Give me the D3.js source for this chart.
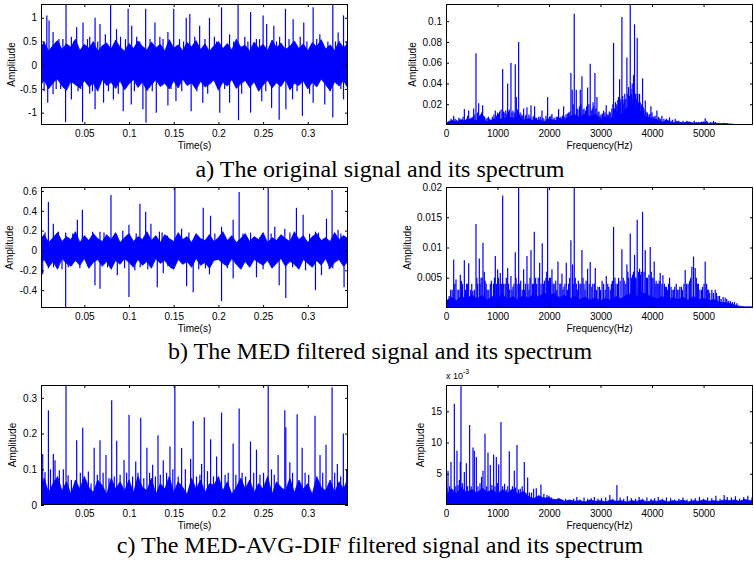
<!DOCTYPE html>
<html>
<head>
<meta charset="utf-8">
<script src="https://cdn.jsdelivr.net/npm/d3@7"></script>
<style>
  body { margin: 0; background: #fff; }
  svg { display: block; }
  .tick text { font-family: "Liberation Sans", Arial, sans-serif; font-size: 10px; fill: #000; }
  .tick line { stroke: #000; }
</style>
</head>
<body>
<svg id="chart" width="754" height="563"></svg>
<script>
// ---------- data ----------

// sample grid of the noise envelopes (time in s, frequency in Hz)
const timeGrid = [0,0.005,0.01,0.015,0.02,0.025,0.03,0.035,0.04,0.045,
  0.05,0.055,0.06,0.065,0.07,0.075,0.08,0.085,0.09,0.095,
  0.1,0.105,0.11,0.115,0.12,0.125,0.13,0.135,0.14,0.145,
  0.15,0.155,0.16,0.165,0.17,0.175,0.18,0.185,0.19,0.195,
  0.2,0.205,0.21,0.215,0.22,0.225,0.23,0.235,0.24,0.245,
  0.25,0.255,0.26,0.265,0.27,0.275,0.28,0.285,0.29,0.295,
  0.3,0.305,0.31,0.315,0.32,0.325,0.33,0.335,0.34,0.345];
const freqGrid = [0,100,200,300,400,500,600,700,800,900,1000,
  1100,1200,1300,1400,1500,1600,1700,1800,1900,2000,
  2100,2200,2300,2400,2500,2600,2700,2800,2900,3000,
  3100,3200,3300,3400,3500,3600,3700,3800,3900,4000,
  4100,4200,4300,4400,4500,4600,4700,4800,4900,5000,
  5100,5200,5300,5400,5500,5600,5700,5800,5900,6000];

// a) original signal: dense band + impulses
const aBandHi = [0.34,0.48,0.30,0.42,0.52,0.33,0.45,0.38,0.55,0.31,
  0.44,0.36,0.50,0.29,0.41,0.47,0.34,0.53,0.38,0.30,
  0.46,0.35,0.51,0.40,0.32,0.49,0.37,0.44,0.30,0.54,
  0.36,0.43,0.31,0.48,0.39,0.52,0.33,0.45,0.29,0.41,
  0.50,0.35,0.46,0.32,0.55,0.38,0.42,0.30,0.49,0.36,
  0.44,0.31,0.53,0.37,0.47,0.33,0.40,0.51,0.35,0.45,
  0.30,0.48,0.39,0.54,0.34,0.43,0.31,0.50,0.37,0.46];
const aBandLo = [-0.46,-0.31,-0.50,-0.37,-0.29,-0.44,-0.53,-0.34,-0.41,-0.48,
  -0.32,-0.45,-0.38,-0.55,-0.30,-0.43,-0.36,-0.49,-0.33,-0.52,
  -0.39,-0.30,-0.47,-0.35,-0.54,-0.41,-0.31,-0.45,-0.38,-0.50,
  -0.33,-0.48,-0.29,-0.43,-0.37,-0.51,-0.34,-0.46,-0.40,-0.31,
  -0.53,-0.36,-0.44,-0.30,-0.49,-0.39,-0.32,-0.47,-0.35,-0.55,
  -0.42,-0.31,-0.48,-0.37,-0.45,-0.30,-0.52,-0.38,-0.43,-0.33,
  -0.50,-0.36,-0.46,-0.29,-0.41,-0.54,-0.35,-0.44,-0.32,-0.49];
const aSpikes = [[0.008,1.05],[0.0105,0.94],[0.009,-0.79],[0.015,0.7],[0.015,-0.61],[0.0215,0.55],[0.0235,-0.5],
  [0.0295,1.27],[0.029,-1.2],[0.0355,0.6],[0.0355,-0.72],[0.0414,0.8],[0.043,-0.55],[0.0485,0.9],[0.048,-1.2],
  [0.0535,0.55],[0.056,0.6],[0.056,-0.6],[0.062,1.0],[0.062,-0.93],[0.0675,0.87],[0.0715,-0.79],[0.0735,0.65],
  [0.0794,1.29],[0.0825,-0.72],[0.086,0.76],[0.0905,0.6],[0.0935,-0.97],[0.099,1.19],[0.103,0.83],[0.1025,-0.83],
  [0.1085,0.6],[0.1155,-0.93],[0.1186,1.19],[0.119,-1.21],[0.1235,0.55],[0.129,0.9],[0.1305,-1.0],[0.1345,0.6],
  [0.1435,0.7],[0.1435,-0.85],[0.150,1.19],[0.1525,-0.76],[0.1565,0.55],[0.164,1.0],[0.168,1.08],[0.1695,-0.97],
  [0.1735,0.6],[0.179,0.83],[0.1825,-0.79],[0.19,1.0],[0.1955,0.6],[0.2015,-1.0],[0.2035,1.22],[0.2125,0.65],
  [0.2125,-0.79],[0.222,1.29],[0.2225,-1.16],[0.2295,0.6],[0.236,1.12],[0.236,-1.0],[0.2425,0.55],[0.2485,-0.76],
  [0.25,1.05],[0.254,0.87],[0.2595,-0.9],[0.262,0.83],[0.2685,0.6],[0.268,-1.15],[0.275,1.19],[0.2755,-0.93],
  [0.2836,0.97],[0.283,-0.72],[0.2915,0.6],[0.2955,0.9],[0.294,-1.07],[0.306,1.22],[0.306,-0.79],[0.3135,0.65],
  [0.319,-0.83],[0.3225,0.5],[0.328,1.29],[0.328,-1.1],[0.334,0.69],[0.34,1.05],[0.34,-0.72],[0.3435,0.5],
  [0.005,0.5],[0.005,-0.55],[0.0185,-0.5],[0.026,0.55],[0.038,0.5],[0.046,-0.5],[0.059,-0.55],[0.065,0.5],
  [0.077,-0.55],[0.088,-0.6],[0.096,0.55],[0.106,-0.55],[0.112,0.5],[0.126,-0.55],[0.138,0.55],[0.147,-0.5],
  [0.159,-0.55],[0.161,0.5],[0.176,-0.55],[0.185,0.55],[0.188,-0.6],[0.198,0.5],[0.207,-0.5],[0.217,0.5],
  [0.226,-0.6],[0.233,0.5],[0.246,0.55],[0.253,-0.55],[0.265,0.5],[0.279,0.55],[0.288,-0.55],[0.299,0.5],
  [0.302,-0.6],[0.31,0.55],[0.325,-0.55],[0.331,0.5],[0.337,-0.5]];
const aFloor = [0.002,0.004,0.003,0.005,0.003,0.006,
  0.004,0.006,0.003,0.005,0.007, 0.005,0.008,0.006,0.009,0.005,
  0.006,0.004,0.005,0.003,0.006, 0.004,0.006,0.005,0.008,0.010,
  0.007,0.011,0.008,0.010,0.006, 0.008,0.006,0.012,0.010,0.016,
  0.020,0.015,0.012,0.008,0.006, 0.005,0.003,0.004,0.002,0.003,
  0.002,0.003,0.002,0.002,0.003, 0.0015,0.002,0.001,0.0015,0.001,
  0.0006,0.0005,0.0005,0.0005,0.0005];
const aPeaks = [[60,0.004],[100,0.006],[149,0.009],[200,0.005],[250,0.007],[300,0.005],[356,0.0155],[400,0.006],[440,0.014],[480,0.007],
  [537,0.016],[582,0.069],[610,0.012],[634,0.021],[670,0.01],[711,0.019],[750,0.008],[800,0.007],[850,0.006],[900,0.008],
  [957,0.014],[1000,0.012],[1040,0.013],[1070,0.015],[1100,0.054],[1130,0.012],[1160,0.014],[1197,0.040],[1230,0.015],[1261,0.060],
  [1300,0.014],[1345,0.0585],[1365,0.027],[1390,0.015],[1410,0.080],[1440,0.012],[1470,0.01],[1507,0.016],[1540,0.009],[1572,0.017],
  [1610,0.01],[1650,0.019],[1690,0.008],[1720,0.018],[1760,0.007],[1800,0.008],[1863,0.014],[1900,0.006],[1940,0.009],[1973,0.027],
  [2010,0.008],[2057,0.0105],[2100,0.007],[2140,0.008],[2186,0.0155],[2230,0.008],[2283,0.018],[2330,0.01],[2380,0.012],[2425,0.050],
  [2451,0.034],[2490,0.107],[2529,0.034],[2560,0.015],[2607,0.034],[2639,0.047],[2680,0.016],[2710,0.014],[2749,0.036],[2800,0.059],
  [2840,0.016],[2870,0.018],[2891,0.050],[2930,0.027],[2970,0.013],[3010,0.01],[3059,0.014],[3111,0.019],[3150,0.01],[3190,0.012],
  [3220,0.016],[3253,0.079],[3290,0.022],[3320,0.018],[3350,0.027],[3370,0.044],[3395,0.025],[3415,0.104],[3440,0.02],[3470,0.03],
  [3490,0.025],[3512,0.065],[3544,0.0365],[3560,0.028],[3577,0.1165],[3600,0.03],[3615,0.040],[3641,0.048],[3660,0.097],[3685,0.03],
  [3712,0.084],[3735,0.022],[3758,0.030],[3790,0.018],[3816,0.045],[3845,0.015],[3868,0.0235],[3910,0.012],[3940,0.01],[3978,0.018],
  [4020,0.008],[4060,0.009],[4094,0.014],[4140,0.007],[4191,0.009],[4230,0.006],[4280,0.006],[4340,0.0073],[4400,0.005],[4450,0.006],
  [4520,0.004],[4600,0.004],[4676,0.004],[4750,0.003],[4820,0.004],[4900,0.003],[4960,0.003],[5032,0.0066],[5080,0.003],[5140,0.003],
  [5194,0.004],[5260,0.002],[5320,0.002],[5388,0.002],[5460,0.0015],[5520,0.001],
  [20,0.003],[120,0.005],[175,0.006],[225,0.004],[275,0.006],[330,0.008],[380,0.005],[420,0.009],[460,0.006],[510,0.008],
  [560,0.01],[650,0.009],[690,0.012],[730,0.009],[775,0.006],[825,0.008],[875,0.005],[930,0.01],[980,0.009],[1020,0.011],
  [1115,0.013],[1180,0.011],[1215,0.013],[1280,0.012],[1325,0.012],[1425,0.01],[1490,0.009],[1555,0.01],[1630,0.008],[1705,0.009],
  [1740,0.007],[1830,0.008],[1880,0.007],[1960,0.006],[2035,0.009],[2080,0.006],[2165,0.008],[2205,0.007],[2260,0.009],[2305,0.008],
  [2355,0.011],[2405,0.013],[2470,0.02],[2545,0.016],[2590,0.018],[2620,0.02],[2660,0.015],[2730,0.018],[2775,0.02],[2820,0.014],
  [2855,0.022],[2910,0.016],[2950,0.012],[2990,0.009],[3035,0.011],[3085,0.012],[3130,0.01],[3170,0.013],[3240,0.02],[3270,0.016],
  [3305,0.02],[3335,0.024],[3380,0.022],[3430,0.028],[3455,0.024],[3530,0.03],[3590,0.035],[3630,0.026],[3670,0.03],[3700,0.025],
  [3725,0.03],[3770,0.022],[3800,0.02],[3830,0.017],[3885,0.013],[3960,0.011],[4000,0.012],[4040,0.008],[4120,0.008],[4170,0.006],
  [4260,0.005],[4310,0.005],[4370,0.004],[4480,0.004],[4560,0.003],[4640,0.003],[4720,0.003],[4860,0.003],[5000,0.003],[5060,0.004],
  [5110,0.002],[5230,0.003],[5290,0.002],[5420,0.0015]];

// b) MED filtered
const bBandHi = [0.10,0.16,0.08,0.13,0.18,0.09,0.14,0.11,0.19,0.08,
  0.15,0.10,0.17,0.12,0.09,0.16,0.11,0.18,0.08,0.13,
  0.17,0.09,0.14,0.11,0.19,0.10,0.15,0.08,0.16,0.12,
  0.09,0.18,0.11,0.14,0.08,0.17,0.12,0.10,0.16,0.09,
  0.13,0.19,0.10,0.15,0.08,0.12,0.17,0.09,0.14,0.11,
  0.18,0.08,0.13,0.10,0.16,0.12,0.09,0.19,0.11,0.15,
  0.08,0.14,0.17,0.10,0.13,0.09,0.18,0.11,0.15,0.12];
const bBandLo = [-0.14,-0.09,-0.17,-0.11,-0.19,-0.08,-0.13,-0.16,-0.10,-0.15,
  -0.08,-0.18,-0.12,-0.09,-0.16,-0.11,-0.19,-0.10,-0.14,-0.08,
  -0.12,-0.17,-0.09,-0.15,-0.11,-0.18,-0.08,-0.13,-0.10,-0.16,
  -0.19,-0.09,-0.14,-0.11,-0.17,-0.08,-0.15,-0.12,-0.18,-0.10,
  -0.09,-0.13,-0.16,-0.08,-0.14,-0.19,-0.11,-0.17,-0.09,-0.12,
  -0.15,-0.10,-0.18,-0.13,-0.08,-0.16,-0.11,-0.14,-0.19,-0.09,
  -0.13,-0.17,-0.10,-0.15,-0.08,-0.18,-0.12,-0.09,-0.16,-0.11];
const bSpikes = [[0.0034,-0.24],[0.0098,0.49],[0.0098,-0.18],[0.0153,0.27],[0.0155,-0.17],[0.0291,0.18],[0.0291,-0.58],[0.032,-0.17],
  [0.0422,0.31],[0.0478,0.41],[0.054,-0.16],[0.0593,0.19],[0.0619,-0.35],[0.0675,0.19],[0.0675,-0.385],[0.0798,0.56],
  [0.086,0.16],[0.0869,-0.25],[0.0999,0.26],[0.0999,-0.47],[0.1065,-0.2],[0.1122,0.47],[0.1125,-0.17],[0.1186,0.39],
  [0.1245,0.27],[0.1316,-0.37],[0.134,0.19],[0.1383,-0.23],[0.143,0.15],[0.1435,-0.16],[0.1513,0.64],[0.1588,0.22],
  [0.1644,-0.36],[0.1718,-0.42],[0.183,0.43],[0.1855,-0.18],[0.1912,0.35],[0.19,-0.24],[0.2035,0.24],[0.2035,-0.51],
  [0.2165,0.31],[0.2165,-0.28],[0.2232,0.59],[0.2275,0.17],[0.2426,-0.27],[0.2557,0.64],[0.2631,0.24],[0.268,-0.35],
  [0.2743,0.22],[0.2754,-0.48],[0.283,-0.17],[0.2873,0.43],[0.2948,0.36],[0.2975,-0.2],[0.3086,0.19],[0.3086,-0.4],
  [0.3153,-0.25],[0.3209,0.32],[0.3272,0.61],[0.328,-0.18],[0.3339,0.21],[0.3406,-0.37],
  [0.006,0.18],[0.021,0.19],[0.025,-0.19],[0.037,0.17],[0.045,-0.18],[0.072,0.18],[0.076,-0.17],[0.093,0.2],
  [0.095,-0.18],[0.108,0.17],[0.121,-0.19],[0.137,0.18],[0.147,-0.18],[0.167,0.18],[0.178,-0.19],[0.196,0.17],
  [0.21,-0.18],[0.236,0.18],[0.25,-0.19],[0.259,0.17],[0.28,0.18],[0.302,0.17],[0.312,0.18],[0.324,-0.19],[0.337,0.17]];
const bFloor = [0.001,0.0018,0.0012,0.002,0.0014,0.0022,
  0.0015,0.0021,0.0013,0.0019,0.0016, 0.0022,0.0014,0.0019,0.0013,0.0021,
  0.0016,0.0023,0.0018,0.0025,0.0021, 0.0024,0.0017,0.0021,0.0015,0.0019,
  0.0014,0.0018,0.0013,0.0017,0.0012, 0.0016,0.0013,0.0019,0.0015,0.0021,
  0.0024,0.0019,0.0026,0.0022,0.0018, 0.0015,0.0019,0.0013,0.0017,0.0014,
  0.0018,0.0013,0.0019,0.0014,0.0016, 0.0012,0.0014,0.001,0.0009,0.0008,
  0.0005,0.0003,0.0002,0.0002,0.0002];
const bPeaks = [[40,0.0015],[90,0.003],[149,0.008],[194,0.0047],[230,0.003],[278,0.0055],[320,0.004],[356,0.0079],[400,0.004],[440,0.0074],
  [480,0.003],[520,0.0028],[582,0.0139],[615,0.004],[647,0.0082],[680,0.005],[718,0.0108],[744,0.006],[780,0.004],[830,0.003],
  [880,0.0045],[920,0.004],[957,0.0086],[1003,0.0064],[1030,0.004],[1054,0.0058],[1080,0.004],[1100,0.0186],[1150,0.004],[1197,0.0066],
  [1230,0.003],[1261,0.0053],[1300,0.0035],[1345,0.0092],[1380,0.004],[1410,0.020],[1450,0.0045],[1480,0.003],[1507,0.0064],[1540,0.004],
  [1572,0.0086],[1610,0.003],[1650,0.0096],[1680,0.004],[1714,0.0126],[1760,0.004],[1790,0.005],[1818,0.0075],[1845,0.004],[1869,0.0107],
  [1910,0.0045],[1940,0.005],[1973,0.020],[2010,0.005],[2057,0.0064],[2100,0.004],[2130,0.0045],[2173,0.0077],[2210,0.004],[2251,0.0057],
  [2290,0.0035],[2335,0.0075],[2380,0.004],[2425,0.0112],[2458,0.0072],[2490,0.020],[2530,0.004],[2570,0.0045],[2600,0.004],[2639,0.0096],
  [2680,0.004],[2720,0.0045],[2749,0.0065],[2800,0.0076],[2850,0.004],[2898,0.0066],[2950,0.0035],[3000,0.003],[3060,0.004],[3111,0.0053],
  [3160,0.0035],[3210,0.004],[3253,0.0134],[3300,0.004],[3350,0.005],[3415,0.0097],[3460,0.0045],[3512,0.0072],[3545,0.005],[3577,0.0123],
  [3620,0.0055],[3660,0.0088],[3690,0.005],[3712,0.0146],[3758,0.0065],[3790,0.006],[3816,0.0159],[3845,0.006],[3868,0.0096],[3910,0.005],
  [3940,0.0055],[3965,0.0101],[4000,0.005],[4042,0.0077],[4080,0.0045],[4120,0.004],[4159,0.0058],[4211,0.0054],[4260,0.0035],[4300,0.003],
  [4340,0.005],[4390,0.003],[4440,0.0035],[4490,0.003],[4540,0.0035],[4590,0.003],[4644,0.0063],[4700,0.004],[4773,0.0068],[4806,0.0085],
  [4838,0.0066],[4880,0.004],[4930,0.003],[4980,0.0035],[5032,0.0077],[5080,0.003],[5120,0.0025],[5161,0.003],[5226,0.003],[5280,0.002],
  [5340,0.0015],[5420,0.0017],[5480,0.0012],[5560,0.001],[5646,0.0008],
  [60,0.002],[120,0.003],[170,0.004],[250,0.003],[300,0.0045],[380,0.003],[420,0.004],[500,0.004],[550,0.003],[600,0.005],
  [660,0.004],[700,0.005],[760,0.0045],[800,0.003],[860,0.004],[940,0.005],[980,0.004],[1020,0.005],[1120,0.004],[1170,0.005],
  [1215,0.004],[1280,0.003],[1320,0.004],[1360,0.005],[1430,0.004],[1525,0.003],[1590,0.004],[1630,0.005],[1700,0.004],[1740,0.005],
  [1890,0.004],[1955,0.006],[1990,0.0045],[2030,0.005],[2080,0.004],[2150,0.003],[2230,0.004],[2270,0.003],[2310,0.004],[2360,0.003],
  [2400,0.005],[2470,0.004],[2510,0.005],[2550,0.003],[2620,0.004],[2660,0.005],[2700,0.003],[2780,0.004],[2830,0.0035],[2880,0.004],
  [2920,0.003],[2980,0.0035],[3030,0.0045],[3090,0.003],[3140,0.004],[3190,0.003],[3230,0.0045],[3280,0.005],[3330,0.004],[3380,0.0045],
  [3440,0.005],[3490,0.004],[3530,0.006],[3600,0.005],[3640,0.006],[3680,0.005],[3735,0.006],[3775,0.0055],[3890,0.005],[3985,0.006],
  [4020,0.005],[4060,0.004],[4100,0.004],[4140,0.0045],[4190,0.004],[4240,0.004],[4280,0.0035],[4320,0.004],[4370,0.0035],[4420,0.003],
  [4470,0.004],[4520,0.003],[4570,0.0035],[4620,0.004],[4670,0.004],[4730,0.0045],[4750,0.005],[4860,0.005],[4900,0.004],[4960,0.003],
  [5010,0.004],[5060,0.004],[5100,0.003],[5190,0.0025],[5250,0.0025],[5310,0.002],[5380,0.0018],[5450,0.0015],[5520,0.0012],[5600,0.001]];

// c) MED-AVG-DIF filtered (spectrum in units of 1e-3)
const cBandHi = [0.05,0.075,0.035,0.06,0.08,0.04,0.065,0.03,0.07,0.045,
  0.08,0.05,0.035,0.07,0.055,0.03,0.075,0.045,0.065,0.04,
  0.07,0.035,0.08,0.05,0.04,0.075,0.03,0.06,0.045,0.08,
  0.035,0.065,0.05,0.03,0.075,0.045,0.07,0.035,0.06,0.055,
  0.08,0.04,0.065,0.03,0.05,0.075,0.045,0.07,0.035,0.06,
  0.045,0.08,0.03,0.065,0.05,0.04,0.075,0.035,0.07,0.045,
  0.06,0.03,0.08,0.05,0.04,0.07,0.035,0.065,0.045,0.075];
const cSpikes = [[0.0034,0.143],[0.006,0.092],[0.0098,0.265],[0.0121,0.1],[0.0153,0.143],[0.0172,0.125],[0.022,0.097],[0.0265,0.1],
  [0.0295,0.334],[0.0318,0.083],[0.0355,0.07],[0.0414,0.181],[0.0455,0.09],[0.0482,0.216],[0.0545,0.094],[0.0575,0.06],
  [0.061,0.16],[0.0645,0.085],[0.0675,0.181],[0.071,0.09],[0.0742,0.14],[0.0775,0.075],[0.0806,0.293],[0.0835,0.08],
  [0.0862,0.18],[0.09,0.085],[0.0944,0.126],[0.0973,0.09],[0.1,0.253],[0.104,0.08],[0.1075,0.122],[0.11,0.09],
  [0.1131,0.244],[0.1165,0.075],[0.12,0.16],[0.123,0.09],[0.1264,0.113],[0.1295,0.08],[0.1324,0.195],[0.135,0.085],
  [0.1383,0.125],[0.142,0.09],[0.1458,0.164],[0.149,0.1],[0.1513,0.334],[0.155,0.08],[0.1588,0.16],[0.163,0.1],
  [0.1689,0.129],[0.1718,0.235],[0.1755,0.08],[0.1793,0.085],[0.1812,0.115],[0.1842,0.246],[0.1878,0.095],[0.1913,0.184],
  [0.1945,0.08],[0.198,0.136],[0.2035,0.259],[0.2075,0.085],[0.211,0.09],[0.2165,0.172],[0.2195,0.085],[0.2232,0.27],
  [0.2265,0.09],[0.2305,0.08],[0.2359,0.178],[0.2395,0.09],[0.2426,0.155],[0.2465,0.085],[0.2505,0.09],[0.2557,0.334],
  [0.2594,0.1],[0.2625,0.085],[0.2668,0.14],[0.2743,0.265],[0.2754,0.218],[0.2799,0.12],[0.283,0.09],[0.2881,0.254],
  [0.2937,0.16],[0.297,0.09],[0.301,0.085],[0.3081,0.25],[0.3137,0.14],[0.3167,0.09],[0.3204,0.169],[0.3272,0.33],
  [0.3301,0.09],[0.3331,0.115],[0.3368,0.08],[0.3398,0.2],[0.3435,0.1]];
const cFloor = [1.5,2.6,1.8,2.8,2.0,2.5, 1.9,2.7,2.1,2.4,1.8, 2.5,1.9,2.6,1.7,2.2,
  1.4,1.0,1.5,1.1,1.2, 0.8,1.0,0.6,0.8,0.6, 0.7,0.5,0.8,0.6,0.7, 0.5,0.8,0.6,0.7,0.5,
  0.7,0.6,0.8,0.5,0.7, 0.6,0.8,0.5,0.7,0.6, 0.8,0.5,0.7,0.6,0.8, 0.6,0.7,0.6,0.8,0.7,
  0.8,0.6,0.9,0.7,0.8];
const cPeaks = [[20,2.8],[39,5.5],[70,3],[97,6.9],[130,2.5],[162,16.2],[190,3],[213,8.7],[233,3.2],[260,4],
  [278,6.9],[291,19.2],[320,3.5],[356,5.3],[395,6.7],[420,3],[459,12.8],[490,3],[524,9.2],[550,8.7],
  [589,7.7],[620,3],[660,3.5],[690,4.5],[718,5.5],[757,11.4],[790,3],[815,8.4],[860,6.4],[890,3.2],
  [925,8.1],[950,3],[977,7.7],[1000,3.5],[1022,6.5],[1067,13.3],[1100,3],[1138,3.4],[1170,2.5],[1200,3],
  [1229,8.6],[1260,2.5],[1290,3],[1326,5.5],[1350,2.8],[1378,9.6],[1410,2.5],[1442,2.6],[1480,3],[1520,6.9],
  [1550,2],[1585,4.4],[1620,2],[1660,2],[1701,2.6],[1753,2.7],[1800,1.5],[1843,3.3],[1900,1.8],[1960,1.6],
  [2000,1.5],[2050,1.2],[2100,1.0],[2180,1.1],[2250,0.9],[2320,1.0],[2400,0.8],[2480,1.0],[2540,1.3],[2600,0.9],
  [2680,1.2],[2750,1.0],[2820,1.1],[2880,1.3],[2950,1.0],[3020,1.1],[3100,1.2],[3180,1.6],[3240,1.0],[3318,3.2],
  [3380,1.2],[3450,1.0],[3520,1.4],[3600,1.1],[3680,1.0],[3750,1.3],[3820,1.0],[3900,1.2],[3980,1.0],[4050,1.1],
  [4120,1.3],[4200,1.0],[4280,1.2],[4360,1.1],[4440,0.9],[4520,1.0],[4600,1.2],[4680,0.9],[4760,1.0],[4840,1.1],
  [4920,1.3],[5000,1.0],[5080,1.2],[5160,1.1],[5240,1.5],[5320,1.0],[5400,1.6],[5460,1.3],[5540,1.2],[5620,1.4],
  [5700,1.0],[5780,1.3],[5860,1.5],[5940,1.2]];

// axis ticks
const timeTicks = [0.05,0.1,0.15,0.2,0.25,0.3];
const freqTicks = [0,1000,2000,3000,4000,5000];
const aTimeYTicks = [-1,-0.5,0,0.5,1];
const aFreqYTicks = [0.02,0.04,0.06,0.08,0.1];
const bTimeYTicks = [-0.4,-0.2,0,0.2,0.4,0.6];
const bFreqYTicks = [0.005,0.01,0.015,0.02];
const cTimeYTicks = [0,0.1,0.2,0.3];
const cFreqYTicks = [5,10,15];

const captions = ["a) The original signal and its spectrum",
  "b) The MED filtered signal and its spectrum",
  "c) The MED-AVG-DIF filtered signal and its spectrum"];

// ---------- drawing ----------
var svg = d3.select("#chart");
var blue = "#0000ff";
var sans = '"Liberation Sans", Arial, sans-serif';

var leftCol = [41, 348], rightCol = [446, 753];
var rows = [[4, 125], [187, 308], [385, 505]];

function drawPanel(p) {
  var g = svg.append("g");
  var x = d3.scaleLinear().domain(p.xDomain).range(p.col);
  var y = d3.scaleLinear().domain(p.yDomain).range([p.row[1], p.row[0]]);

  svg.append("clipPath").attr("id", "clip-" + p.id)
    .append("rect")
    .attr("x", p.col[0]).attr("y", p.row[0])
    .attr("width", p.col[1] - p.col[0]).attr("height", p.row[1] - p.row[0]);

  var plot = g.append("g").attr("clip-path", "url(#clip-" + p.id + ")");

  var band = p.bandX.map((v, i) => [v, p.bandLo ? p.bandLo[i] : 0, p.bandHi[i]]);
  plot.append("path").datum(band)
    .attr("fill", blue).attr("stroke", blue).attr("stroke-width", 0.8)
    .attr("d", d3.area().x(d => x(d[0])).y0(d => y(d[1])).y1(d => y(d[2])));

  plot.selectAll("line.spike").data(p.spikes).join("line")
    .attr("class", "spike")
    .attr("x1", d => x(d[0])).attr("x2", d => x(d[0]))
    .attr("y1", y(0)).attr("y2", d => y(d[1]))
    .attr("stroke", blue).attr("stroke-width", 1.2);

  // MATLAB-style box with inward ticks on all four sides
  var fmt = d => String(d);
  g.append("g").attr("transform", `translate(0,${p.row[1]})`)
    .call(d3.axisBottom(x).tickValues(p.xTicks).tickSizeInner(-3).tickSizeOuter(0).tickPadding(5).tickFormat(fmt));
  g.append("g").attr("transform", `translate(0,${p.row[0]})`)
    .call(d3.axisTop(x).tickValues(p.xTicks).tickSizeInner(-3).tickSizeOuter(0).tickFormat(""));
  g.append("g").attr("transform", `translate(${p.col[0]},0)`)
    .call(d3.axisLeft(y).tickValues(p.yTicks).tickSizeInner(-3).tickSizeOuter(0).tickPadding(4).tickFormat(fmt));
  g.append("g").attr("transform", `translate(${p.col[1]},0)`)
    .call(d3.axisRight(y).tickValues(p.yTicks).tickSizeInner(-3).tickSizeOuter(0).tickFormat(""));
  g.selectAll(".domain").remove();

  g.append("rect")
    .attr("x", p.col[0] + 0.5).attr("y", p.row[0] + 0.5)
    .attr("width", p.col[1] - p.col[0] - 1).attr("height", p.row[1] - p.row[0] - 1)
    .attr("fill", "none").attr("stroke", "#000").attr("stroke-width", 1);

  g.append("text")
    .attr("x", (p.col[0] + p.col[1]) / 2).attr("y", p.row[1] + 24)
    .attr("text-anchor", "middle")
    .style("font-family", sans).style("font-size", "10px")
    .text(p.xLabel);

  g.append("text")
    .attr("transform", `translate(${p.yLabelX + 3.5},${(p.row[0] + p.row[1]) / 2}) rotate(-90)`)
    .attr("text-anchor", "middle")
    .style("font-family", sans).style("font-size", "10px")
    .text("Amplitude");
}

var timeDomain = [0.0015, 0.345];
var freqDomain = [0, 5960];

drawPanel({id: "at", col: leftCol, row: rows[0], xDomain: timeDomain, yDomain: [-1.26, 1.29],
  bandX: timeGrid, bandHi: aBandHi, bandLo: aBandLo, spikes: aSpikes,
  xTicks: timeTicks, yTicks: aTimeYTicks, xLabel: "Time(s)", yLabelX: 11.5});
drawPanel({id: "af", col: rightCol, row: rows[0], xDomain: freqDomain, yDomain: [0, 0.1165],
  bandX: freqGrid, bandHi: aFloor, spikes: aPeaks,
  xTicks: freqTicks, yTicks: aFreqYTicks, xLabel: "Frequency(Hz)", yLabelX: 412});
drawPanel({id: "bt", col: leftCol, row: rows[1], xDomain: timeDomain, yDomain: [-0.58, 0.64],
  bandX: timeGrid, bandHi: bBandHi, bandLo: bBandLo, spikes: bSpikes,
  xTicks: timeTicks, yTicks: bTimeYTicks, xLabel: "Time(s)", yLabelX: 9.5});
drawPanel({id: "bf", col: rightCol, row: rows[1], xDomain: freqDomain, yDomain: [0, 0.02],
  bandX: freqGrid, bandHi: bFloor, spikes: bPeaks,
  xTicks: freqTicks, yTicks: bFreqYTicks, xLabel: "Frequency(Hz)", yLabelX: 407});
drawPanel({id: "ct", col: leftCol, row: rows[2], xDomain: timeDomain, yDomain: [0, 0.336],
  bandX: timeGrid, bandHi: cBandHi, spikes: cSpikes,
  xTicks: timeTicks, yTicks: cTimeYTicks, xLabel: "Time(s)", yLabelX: 12.5});
drawPanel({id: "cf", col: rightCol, row: rows[2], xDomain: freqDomain, yDomain: [0, 19.2],
  bandX: freqGrid, bandHi: cFloor, spikes: cPeaks,
  xTicks: freqTicks, yTicks: cFreqYTicks, xLabel: "Frequency(Hz)", yLabelX: 420});

// exponent label of the last spectrum
var expo = svg.append("text")
  .attr("x", 446).attr("y", 379)
  .style("font-family", sans).style("font-size", "9px");
expo.append("tspan").text("x 10");
expo.append("tspan").attr("dy", -5).style("font-size", "7px").text("-3");

// figure captions
var captionY = [177, 359, 553];
svg.selectAll("text.caption").data(captions).join("text")
  .attr("class", "caption")
  .attr("x", 380).attr("y", (d, i) => captionY[i])
  .attr("text-anchor", "middle")
  .style("font-family", '"Liberation Serif", "Times New Roman", serif')
  .style("font-size", "24px")
  .text(d => d);
</script>
</body>
</html>
